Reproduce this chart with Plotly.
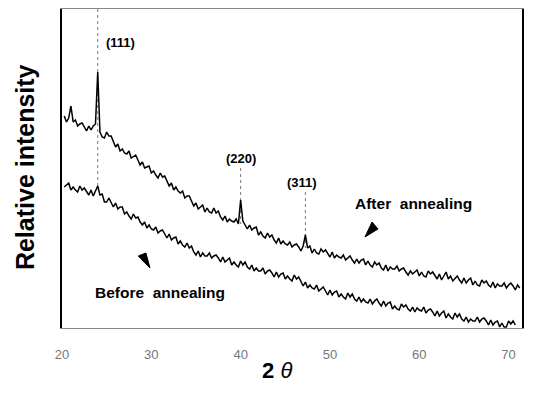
import plotly.graph_objects as go

# Intensities (arbitrary units), 2-theta grid starting at 20.25 in 0.25 steps
after_annealing = [
    212, 206, 210, 222,   # 20.25 - 21.00
    206, 208, 202, 204,   # 21
    205, 201, 197, 202,   # 22
    198, 202, 204, 256,   # 23  (111)
    196, 191, 190, 196,   # 24
    192, 192, 186, 181,   # 25
    184, 177, 179, 175,   # 26
    174, 177, 170, 172,   # 27
    173, 168, 163, 166,   # 28
    160, 161, 162, 155,   # 29
    157, 153, 150, 155,   # 30
    151, 152, 146, 142,   # 31
    145, 138, 141, 137,   # 32
    135, 137, 130, 132,   # 33
    132, 127, 122, 125,   # 34
    119, 121, 123, 116,   # 35
    120, 116, 115, 120,   # 36
    115, 117, 111, 108,   # 37
    112, 106, 109, 107,   # 38
    106, 109, 104, 128,   # 39  (220)
    107, 103, 99, 103,    # 40
    98, 100, 101, 93,     # 41
    96, 92, 90, 95,       # 42
    91, 93, 88, 85,       # 43
    90, 84, 87, 84,       # 44
    83, 86, 81, 83,       # 45
    84, 81, 77, 82,       # 46
    93, 80, 82, 75,       # 47  (311)
    79, 75, 74, 79,       # 48
    76, 78, 74, 71,       # 49
    76, 70, 73, 71,       # 50
    70, 73, 68, 70,       # 51
    72, 68, 65, 69,       # 52
    65, 68, 69, 63,       # 53
    67, 63, 61, 66,       # 54
    63, 65, 60, 58,       # 55
    63, 57, 61, 59,       # 56
    59, 62, 57, 59,       # 57
    60, 56, 53, 57,       # 58
    54, 56, 58, 52,       # 59
    56, 52, 51, 57,       # 60
    54, 56, 52, 49,       # 61
    54, 48, 52, 56,       # 62
    49, 52, 47, 50,       # 63
    52, 48, 45, 50,       # 64
    45, 48, 50, 43,       # 65
    47, 43, 42, 48,       # 66
    45, 47, 43, 41,       # 67
    46, 40, 44, 42,       # 68
    42, 45, 40, 43,       # 69
    45, 42, 38, 43,       # 70
    40,                   # 71.25
]

before_annealing = [
    141, 143, 145, 138,   # 20
    141, 138, 136, 142,   # 21
    138, 140, 136, 133,   # 22
    138, 132, 137, 142,   # 23
    133, 134, 126, 126,   # 24
    130, 126, 121, 125,   # 25
    119, 121, 121, 114,   # 26
    116, 112, 109, 114,   # 27
    110, 111, 106, 103,   # 28
    106, 100, 103, 99,    # 29
    98, 101, 95, 97,      # 30
    98, 94, 90, 94,       # 31
    88, 90, 91, 84,       # 32
    87, 83, 81, 85,       # 33
    80, 82, 76, 73,       # 34
    77, 71, 75, 72,       # 35
    72, 75, 70, 72,       # 36
    73, 70, 66, 71,       # 37
    66, 68, 70, 63,       # 38
    66, 63, 61, 67,       # 39
    63, 66, 61, 59,       # 40
    63, 57, 60, 57,       # 41
    57, 60, 54, 57,       # 42
    58, 55, 51, 56,       # 43
    51, 54, 55, 49,       # 44
    52, 49, 47, 53,       # 45
    49, 51, 46, 42,       # 46
    46, 40, 43, 40,       # 47
    39, 43, 37, 39,       # 48
    41, 37, 33, 38,       # 49
    33, 36, 37, 31,       # 50
    34, 31, 29, 35,       # 51
    31, 34, 29, 27,       # 52
    31, 26, 29, 26,       # 53
    25, 29, 24, 27,       # 54
    29, 25, 22, 27,       # 55
    22, 25, 26, 19,       # 56
    22, 19, 18, 24,       # 57
    21, 23, 19, 17,       # 58
    21, 16, 20, 18,       # 59
    17, 21, 15, 18,       # 60
    19, 16, 12, 17,       # 61
    12, 15, 17, 10,       # 62
    14, 11, 9, 15,        # 63
    11, 14, 9, 7,         # 64
    11, 6, 9, 7,          # 65
    7, 11, 6, 9,          # 66
    10, 7, 3, 8,          # 67
    3, 6, 7, 1,           # 68
    5, 1, 1, 7,           # 69
    4, 7, 3,              # 70
]

grid_start = 20.25
grid_step = 0.25
two_theta_after = [grid_start + grid_step * i for i in range(len(after_annealing))]
two_theta_before = [grid_start + grid_step * i for i in range(len(before_annealing))]

tick_values = [20, 30, 40, 50, 60, 70]
tick_labels = ["20", "30", "40", "50", "60", "70"]

peak_names = ["(111)", "(220)", "(311)"]
peak_positions = [24.0, 40.0, 47.25]
peak_label_x = [26.6, 40.0, 46.9]
peak_label_y = [286, 170, 146]
guide_top = [319, 160, 136]
guide_bottom = [140, 104, 80]

FONT = "Liberation Sans, Arial, Helvetica, sans-serif"

fig = go.Figure()
fig.add_trace(go.Scatter(x=two_theta_after, y=after_annealing, mode="lines",
                         line=dict(color="black", width=1.5), showlegend=False,
                         name="After annealing"))
fig.add_trace(go.Scatter(x=two_theta_before, y=before_annealing, mode="lines",
                         line=dict(color="black", width=1.5), showlegend=False,
                         name="Before annealing"))

shapes = []
for xp, y0, y1 in zip(peak_positions, guide_top, guide_bottom):
    shapes.append(dict(type="line", xref="x", yref="y", x0=xp, x1=xp, y0=y0, y1=y1,
                       line=dict(color="#777", width=1, dash="dot"), layer="below"))
# arrowheads
shapes.append(dict(type="path", xref="x", yref="y",
                   path="M 53.92 91 L 54.71 106 L 55.38 99 Z",
                   fillcolor="black", line=dict(color="black", width=1)))
shapes.append(dict(type="path", xref="x", yref="y",
                   path="M 28.54 72 L 29.40 75 L 29.85 60 Z",
                   fillcolor="black", line=dict(color="black", width=1)))

annotations = []
for name, lx, ly in zip(peak_names, peak_label_x, peak_label_y):
    annotations.append(dict(x=lx, y=ly, xref="x", yref="y", text="<b>" + name + "</b>",
                            showarrow=False, font=dict(family=FONT, size=13, color="black")))
annotations.append(dict(x=59.4, y=125, xref="x", yref="y", text="<b>After  annealing</b>",
                        showarrow=False, font=dict(family=FONT, size=15.5, color="black")))
annotations.append(dict(x=31.0, y=36, xref="x", yref="y", text="<b>Before  annealing</b>",
                        showarrow=False, font=dict(family=FONT, size=15.5, color="black")))
annotations.append(dict(x=-0.08, y=0.505, xref="paper", yref="paper",
                        text="<b>Relative intensity</b>", textangle=-90, showarrow=False,
                        xanchor="center", yanchor="middle",
                        font=dict(family=FONT, size=25, color="black")))
annotations.append(dict(x=0.467, y=-0.132, xref="paper", yref="paper",
                        text="<b>2</b> <i>θ</i>", showarrow=False,
                        xanchor="center", yanchor="middle",
                        font=dict(family=FONT, size=22, color="black")))

# the page body has an 8 px default margin, so the figure is shifted by 8 px
fig.update_layout(
    width=525, height=391,
    margin=dict(l=54, r=11, t=1, b=71),
    paper_bgcolor="white", plot_bgcolor="white",
    shapes=shapes, annotations=annotations,
    xaxis=dict(range=[20, 71.5], tickvals=tick_values, ticktext=tick_labels,
               showgrid=False, zeroline=False, ticks="",
               showline=True, linecolor="#888", linewidth=1, mirror=True,
               ticklabelstandoff=14,
               tickfont=dict(family=FONT, size=13, color="#777")),
    yaxis=dict(range=[0, 319], showticklabels=False, showgrid=False, zeroline=False,
               ticks="", showline=True, linecolor="black", linewidth=2, mirror=True),
)

fig.write_html("out.html")
